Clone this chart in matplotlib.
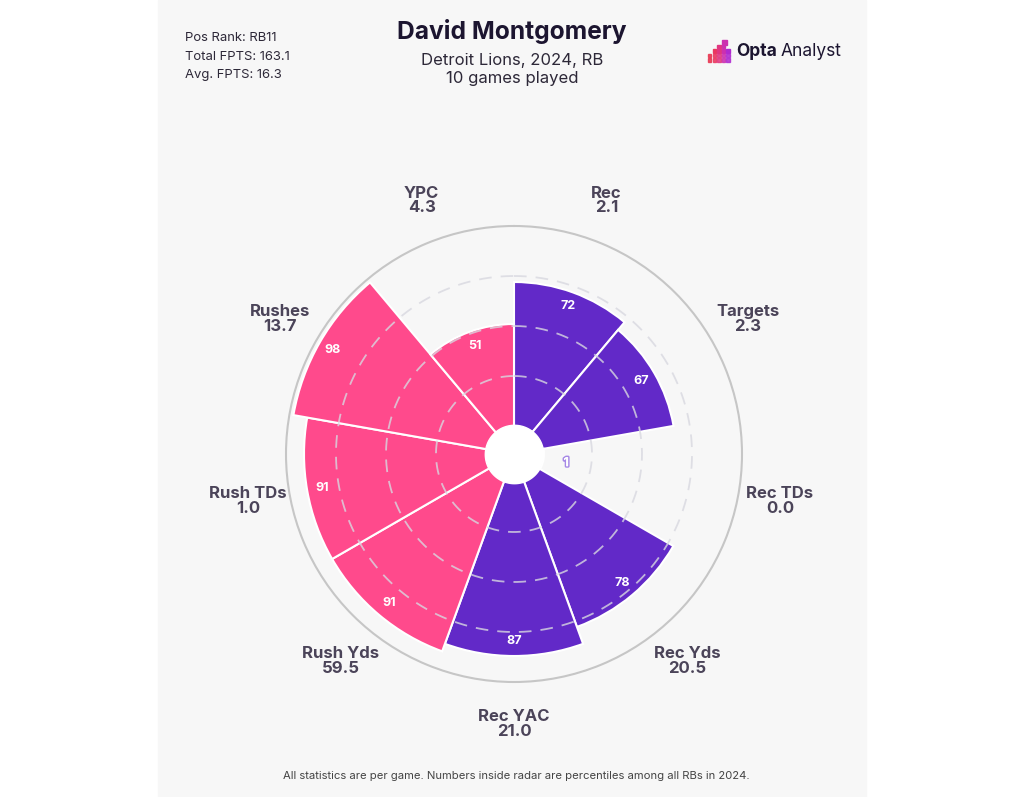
import numpy as np
import matplotlib.pyplot as plt
from matplotlib import patheffects
from matplotlib.patches import Rectangle

plt.rcParams['font.family'] = ['Inter', 'DejaVu Sans']

# data, clockwise from the top
categories = ["Rec", "Targets", "Rec TDs", "Rec Yds", "Rec YAC",
              "Rush Yds", "Rush TDs", "Rushes", "YPC"]
per_game = ["2.1", "2.3", "0.0", "20.5", "21.0", "59.5", "1.0", "13.7", "4.3"]
percentiles = [72, 67, 1, 78, 87, 91, 91, 98, 51]
groups = ["rec", "rec", "rec", "rec", "rec", "rush", "rush", "rush", "rush"]

info_lines = ["Pos Rank: RB11", "Total FPTS: 163.1", "Avg. FPTS: 16.3"]

pink = "#ff4a8c"
purple = "#6229c8"
label_col = "#4b4459"
dark = "#1c1530"

W, H = 1024, 797
fig = plt.figure(figsize=(W / 100, H / 100), dpi=100)
fig.patch.set_facecolor("white")

# grey panel
fig.add_artist(Rectangle((158 / W, 0), (866 - 158) / W, 1,
                         transform=fig.transFigure, color="#f7f7f7", zorder=0))

cx, cy, R = 514, 454, 228
ax = fig.add_axes([(cx - R) / W, (H - cy - R) / H, 2 * R / W, 2 * R / H],
                  projection="polar")
ax.set_facecolor("none")
ax.set_theta_zero_location("N")
ax.set_theta_direction(-1)
rmin = -14
ax.set_ylim(rmin, 100)
ax.set_xticks([])
ax.set_yticks([])
ax.grid(False)
ax.spines["polar"].set_color("#c6c6c6")
ax.spines["polar"].set_linewidth(1.5)

n = len(categories)
step = 2 * np.pi / n
theta = np.arange(n) * step + step / 2
colors = [purple if g == "rec" else pink for g in groups]

ax.bar(theta, np.array(percentiles) - rmin, width=step, bottom=rmin,
       color=colors, edgecolor="white", linewidth=1.5, zorder=2)

# dashed rings
t = np.linspace(0, 2 * np.pi, 400)
for r in [25, 50, 75]:
    ax.plot(t, np.full_like(t, r), color="#d8d8e0", alpha=0.8,
            linewidth=1.3, dashes=(7, 5), zorder=3)

# white hub
ax.fill_between(t, rmin, 0.6, color="white", zorder=4)

# percentile labels
for th, p in zip(theta, percentiles):
    if p > 20:
        ax.text(th, p - 7.5, str(p), color="white", fontsize=9,
                fontweight="bold", ha="center", va="center", zorder=5)
    else:
        txt = ax.text(th, p + 11.5, str(p), color="white", fontsize=9,
                      fontweight="bold", ha="center", va="center", zorder=5)
        txt.set_path_effects([patheffects.withStroke(linewidth=2.2,
                                                     foreground="#a688e6"),
                              patheffects.Normal()])

# category labels
for th, name, val in zip(theta, categories, per_game):
    ax.text(th, 121, name + "\n" + val, color=label_col, fontsize=12,
            fontweight="bold", ha="center", va="center", linespacing=0.95,
            zorder=5)

# header
fig.text(512 / W, 1 - 32 / H, "David Montgomery", fontsize=17.7,
         fontweight="bold", color=dark, ha="center", va="center")
fig.text(512 / W, 1 - 61 / H, "Detroit Lions, 2024, RB", fontsize=12,
         color="#2d2838", ha="center", va="center")
fig.text(512 / W, 1 - 79 / H, "10 games played", fontsize=12,
         color="#2d2838", ha="center", va="center")

for i, line in enumerate(info_lines):
    fig.text(185 / W, 1 - (38 + 18.5 * i) / H, line, fontsize=9.4,
             color="#2d2838", ha="left", va="center")

# Opta Analyst mark
cells = [(3, 0), (2, 1), (3, 1), (1, 2), (2, 2), (3, 2), (4, 2),
         (0, 3), (1, 3), (2, 3), (3, 3), (4, 3), (0, 4), (1, 4), (2, 4), (3, 4), (4, 4)]
cell_cols = ["#e8334f", "#ea3760", "#e03680", "#cc30b0", "#b02ad0"]
for cxi, cyi in cells:
    x0 = 708 + cxi * 4.6
    y0 = 40 + cyi * 4.6
    size = 5.0 if cyi == 0 else 3.4
    fig.add_artist(Rectangle((x0 / W, 1 - (y0 + size) / H), size / W, size / H,
                             transform=fig.transFigure, color=cell_cols[cxi],
                             alpha=1.0 if cyi < 3 else 0.85))
opta = fig.text(736 / W, 1 - 52 / H, "Opta", fontsize=12.5, fontweight="bold",
                color=dark, ha="left", va="center")
fig.canvas.draw()
bb = opta.get_window_extent(renderer=fig.canvas.get_renderer())
fig.text((bb.x1 + 4) / W, 1 - 52 / H, "Analyst", fontsize=12.5,
         color=dark, ha="left", va="center")

# footer
fig.text(516 / W, 1 - 776 / H,
         "All statistics are per game. Numbers inside radar are percentiles among all RBs in 2024.",
         fontsize=8.1, color="#444444", ha="center", va="center")

fig.savefig("out.png", dpi=100)
